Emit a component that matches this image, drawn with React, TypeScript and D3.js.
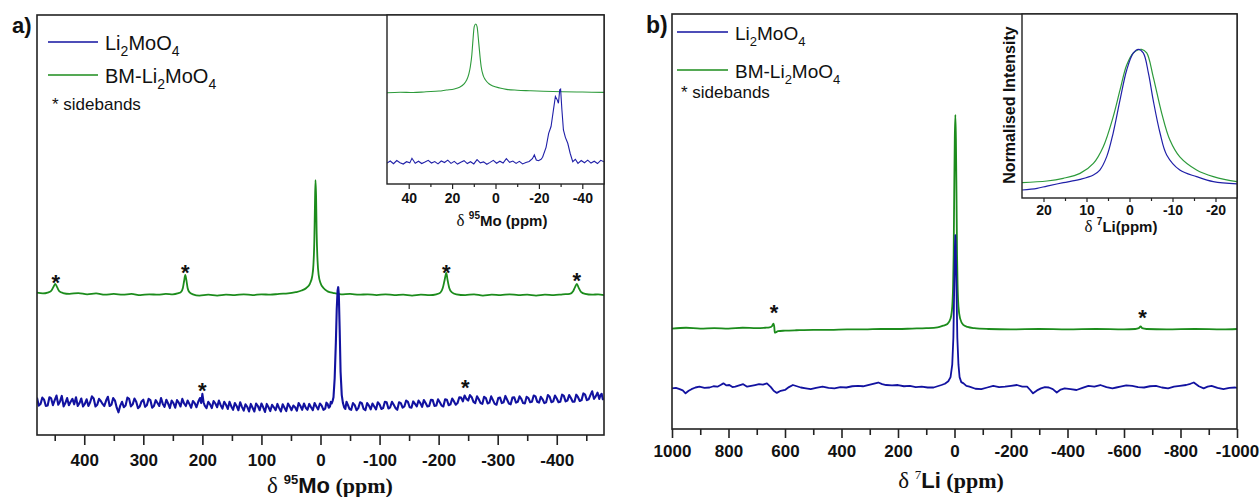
import React, { useEffect, useRef } from 'react';
import * as d3 from 'd3';

type Pt = [number, number];

// ---------- Panel a: 95Mo spectra (ppm, intensity a.u.) ----------
const greenMoMain: Pt[] = [
  [480, 33.9], [470, 33.7], [462, 33.9], [456, 34.3], [452, 35.3], [449, 36.0], [446, 35.2], [442, 34.2], [436, 33.8],
  [425, 33.6], [410, 33.8], [395, 33.5], [380, 33.7], [365, 33.4], [350, 33.6], [335, 33.4], [320, 33.6], [305, 33.3],
  [290, 33.5], [275, 33.4], [262, 33.6], [250, 33.5], [242, 33.7], [236, 34.1], [233, 35.0], [231, 36.6], [229, 38.1],
  [227, 36.8], [225, 35.0], [222, 34.0], [216, 33.5], [205, 33.2], [190, 33.4], [175, 33.2], [160, 33.4], [145, 33.3],
  [130, 33.5], [115, 33.3], [100, 33.5], [85, 33.4], [70, 33.6], [55, 33.7], [42, 34.0], [32, 34.4], [24, 35.0],
  [18, 36.0], [14, 37.8], [12, 40.5], [10.5, 46], [9.5, 54], [8.5, 60.7], [7.5, 57], [6.5, 48], [5, 41.5], [3, 38],
  [0, 36.2], [-5, 35.0], [-12, 34.2], [-22, 33.8], [-35, 33.5], [-50, 33.6], [-65, 33.4], [-80, 33.5], [-95, 33.3],
  [-110, 33.5], [-125, 33.3], [-140, 33.4], [-155, 33.2], [-170, 33.4], [-185, 33.3], [-196, 33.5], [-203, 33.9],
  [-207, 35.0], [-210, 36.8], [-213, 38.6], [-215, 37.0], [-218, 35.0], [-222, 34.0], [-230, 33.5], [-245, 33.3],
  [-260, 33.5], [-275, 33.2], [-290, 33.4], [-305, 33.3], [-320, 33.5], [-335, 33.3], [-350, 33.4], [-365, 33.2],
  [-380, 33.4], [-395, 33.3], [-410, 33.5], [-422, 33.6], [-428, 34.3], [-431, 35.2], [-434, 36.0], [-437, 35.1],
  [-441, 34.1], [-448, 33.6], [-460, 33.4], [-470, 33.5], [-480, 33.3],
];

const blueMoMain: Pt[] = [
  [480, 8.9], [477, 7.0], [474, 7.4], [471, 8.9], [468, 8.4], [465, 6.9], [462, 7.0], [459, 9.0], [456, 8.7], [453, 7.1],
  [450, 8.3], [447, 9.4], [444, 7.2], [441, 8.0], [438, 9.3], [435, 6.8], [432, 7.6], [429, 8.8], [426, 7.1], [423, 7.9],
  [420, 8.6], [417, 7.3], [414, 9.0], [411, 6.9], [408, 7.6], [405, 8.7], [402, 6.8], [399, 7.4], [396, 8.5], [393, 6.9],
  [390, 7.8], [387, 9.2], [384, 8.7], [381, 6.8], [378, 7.2], [375, 8.6], [372, 8.1], [369, 7.4], [366, 6.9], [363, 8.2],
  [360, 9.1], [357, 6.9], [354, 7.2], [351, 8.8], [348, 8.2], [345, 6.5], [342, 5.4], [339, 7.0], [336, 7.9], [333, 6.6],
  [330, 7.0], [327, 8.9], [324, 8.6], [321, 6.8], [318, 7.3], [315, 8.7], [312, 7.9], [309, 6.4], [306, 6.8], [303, 8.0],
  [300, 8.4], [297, 6.7], [294, 7.1], [291, 8.6], [288, 8.3], [285, 6.5], [282, 6.9], [279, 8.3], [276, 7.6], [273, 6.9],
  [270, 8.8], [267, 7.4], [264, 6.7], [261, 8.4], [258, 7.5], [255, 6.4], [252, 8.2], [249, 7.6], [246, 6.5], [243, 8.3],
  [240, 7.7], [237, 6.8], [234, 8.6], [231, 7.5], [228, 6.9], [225, 8.2], [222, 7.4], [219, 6.5], [216, 8.1], [213, 7.6],
  [210, 6.6], [207, 7.9], [204, 8.8], [202, 7.6], [200, 9.8], [198, 7.8], [196, 7.0], [193, 6.4], [190, 7.9], [187, 7.3],
  [184, 6.4], [181, 8.1], [178, 7.5], [175, 6.6], [172, 8.2], [169, 7.1], [166, 6.3], [163, 7.9], [160, 7.2], [157, 6.2],
  [154, 7.9], [151, 6.8], [148, 6.0], [145, 7.6], [142, 6.9], [139, 5.9], [136, 7.8], [133, 6.7], [130, 5.8], [127, 7.3],
  [124, 6.7], [121, 5.6], [118, 7.4], [115, 6.5], [112, 5.6], [109, 7.5], [106, 6.9], [103, 5.9], [100, 7.5], [97, 6.6],
  [94, 5.5], [91, 7.4], [88, 6.6], [85, 5.7], [82, 7.2], [79, 6.6], [76, 5.9], [73, 7.4], [70, 6.4], [67, 5.6],
  [64, 7.3], [61, 6.5], [58, 5.7], [55, 7.5], [52, 6.8], [49, 5.9], [46, 7.0], [43, 6.6], [40, 5.8], [37, 7.6],
  [34, 6.9], [31, 6.0], [28, 7.5], [25, 6.5], [22, 6.0], [19, 7.4], [16, 6.6], [13, 5.9], [10, 7.6], [7, 6.8],
  [4, 6.1], [1, 7.5], [-2, 7.0], [-5, 6.0], [-8, 6.3], [-10, 7.7], [-12, 7.4], [-14, 6.5], [-16, 6.8], [-17.5, 7.9],
  [-19, 7.5], [-20.5, 8.1], [-22, 9.0], [-24, 13.5], [-26, 22], [-27.5, 30], [-29, 34.5], [-30, 35.2], [-31, 33.5],
  [-32.5, 25], [-34, 15], [-36, 9.5], [-38, 7.6], [-40, 6.6], [-42, 6.2], [-44, 7.9], [-46, 7.3], [-49, 6.2], [-52, 6.0],
  [-55, 7.6], [-58, 7.1], [-61, 5.9], [-64, 6.4], [-67, 7.8], [-70, 7.6], [-73, 6.2], [-76, 5.9], [-79, 7.6], [-82, 7.0],
  [-85, 6.1], [-88, 7.5], [-91, 6.8], [-94, 6.1], [-97, 7.8], [-100, 7.3], [-103, 6.2], [-106, 6.4], [-109, 7.9],
  [-112, 7.8], [-115, 6.3], [-118, 6.6], [-121, 7.9], [-124, 7.2], [-127, 6.4], [-130, 6.0], [-133, 7.8], [-136, 7.6],
  [-139, 6.5], [-142, 6.8], [-145, 8.2], [-148, 7.9], [-151, 6.6], [-154, 6.5], [-157, 8.0], [-160, 7.4], [-163, 6.8],
  [-166, 8.2], [-169, 7.6], [-172, 6.7], [-175, 8.3], [-178, 7.6], [-181, 6.8], [-184, 6.9], [-187, 8.4], [-190, 8.3],
  [-193, 6.9], [-196, 7.0], [-199, 8.5], [-202, 7.8], [-205, 7.0], [-208, 6.8], [-211, 8.5], [-214, 8.4], [-217, 7.1],
  [-220, 7.3], [-223, 8.7], [-226, 8.0], [-229, 7.2], [-232, 7.6], [-235, 9.0], [-238, 8.9], [-241, 8.0], [-244, 9.4],
  [-247, 8.6], [-250, 8.2], [-253, 9.5], [-256, 9.0], [-259, 7.9], [-262, 7.6], [-265, 9.2], [-268, 8.5], [-271, 7.6],
  [-274, 7.4], [-277, 9.1], [-280, 8.8], [-283, 7.5], [-286, 7.7], [-289, 9.2], [-292, 8.3], [-295, 7.4], [-298, 7.2],
  [-301, 8.8], [-304, 8.9], [-307, 7.6], [-310, 7.8], [-313, 9.3], [-316, 8.4], [-319, 7.5], [-322, 7.3], [-325, 8.9],
  [-328, 9.0], [-331, 7.7], [-334, 7.9], [-337, 9.2], [-340, 8.6], [-343, 7.6], [-346, 7.5], [-349, 9.1], [-352, 8.8],
  [-355, 7.8], [-358, 7.9], [-361, 9.4], [-364, 9.2], [-367, 7.9], [-370, 7.7], [-373, 9.1], [-376, 8.5], [-379, 7.6],
  [-382, 7.8], [-385, 9.5], [-388, 9.1], [-391, 7.8], [-394, 8.0], [-397, 9.4], [-400, 8.7], [-403, 7.8], [-406, 7.9],
  [-409, 9.6], [-412, 9.3], [-415, 8.0], [-418, 8.2], [-421, 9.5], [-424, 8.8], [-427, 7.9], [-430, 7.9], [-433, 9.6],
  [-436, 9.0], [-439, 8.1], [-442, 8.3], [-445, 9.9], [-448, 9.6], [-451, 8.3], [-454, 8.5], [-457, 9.5], [-460, 10.4],
  [-463, 8.6], [-466, 9.2], [-469, 10.1], [-472, 8.6], [-474, 9.5], [-476, 9.8], [-478, 8.5], [-480, 8.7],
];

const greenMoInset: Pt[] = [
  [50, 54.0], [44, 54.3], [38, 54.1], [32, 54.6], [26, 55.0], [22.7, 55.6], [19, 56.2], [16.6, 57.2], [14.5, 59.2],
  [13.3, 61.5], [12.3, 65.0], [11.6, 69.4], [10.9, 76.5], [10.5, 83.2], [9.8, 93.1], [9.1, 94.7], [8.5, 93.1],
  [7.7, 83.2], [7.1, 75], [6.6, 69.4], [5.6, 64], [4.6, 61.5], [3, 59.3], [1.2, 58.0], [-2, 56.8], [-5, 56.0],
  [-10, 55.5], [-15.7, 55.2], [-22, 54.9], [-31, 54.6], [-40, 54.4], [-50, 54.2],
];

const blueMoInset: Pt[] = [
  [50, 12.4], [48.5, 13.6], [47, 12.0], [45.5, 13.9], [44, 12.6], [42.5, 11.8], [41, 13.2], [39.5, 12.5], [38.5, 15.2],
  [37, 12.3], [35.5, 13.5], [34, 12.1], [32.5, 13.0], [31, 14.0], [29.5, 12.4], [28, 13.3], [26.5, 11.9], [25, 13.6],
  [23.5, 12.7], [22, 14.1], [20.5, 12.2], [19, 13.4], [17.5, 11.8], [16, 12.9], [14.5, 13.8], [13, 12.1], [11.5, 13.2],
  [10, 11.9], [8.5, 14.4], [7, 12.5], [5.5, 13.1], [4, 11.7], [2.5, 12.8], [1, 14.0], [-0.5, 12.3], [-2, 13.5],
  [-3.5, 12.4], [-5, 15.0], [-6.5, 12.8], [-8, 13.6], [-9.5, 12.2], [-11, 13.4], [-12.5, 11.9], [-14, 12.7],
  [-15.5, 13.3], [-17, 15.0], [-17.9, 17.2], [-18.8, 14.2], [-19.8, 13.8], [-21, 14.6], [-21.7, 15.8], [-23.3, 21.7],
  [-24.5, 30], [-25.6, 34], [-26.7, 43.9], [-27.6, 51.8], [-28.4, 49.9], [-29.0, 47.8], [-29.6, 55.7], [-30.0, 56.1],
  [-30.6, 43.9], [-31.3, 32], [-32.2, 27.6], [-33.3, 24.1], [-34.4, 18.2], [-35.6, 13.2], [-36.8, 14.6], [-38, 12.2],
  [-39.5, 13.9], [-41, 12.6], [-42.5, 14.1], [-44, 12.4], [-45.5, 13.5], [-47, 12.1], [-48.5, 14.0], [-50, 13.1],
];

// ---------- Panel b: 7Li spectra ----------
const greenLiMain: Pt[] = [
  [1000, 24.2], [950, 24.4], [900, 24.2], [850, 24.3], [800, 24.2], [750, 24.4], [700, 24.3], [670, 24.4], [655, 24.5],
  [646, 24.8], [641, 25.4], [638, 24.6], [636, 23.2], [632, 23.3], [625, 23.6], [600, 23.7], [560, 23.8], [500, 23.9],
  [440, 23.9], [380, 24.0], [320, 24.0], [260, 24.1], [200, 24.1], [150, 24.2], [100, 24.3], [60, 24.5], [40, 24.9],
  [25, 25.3], [14, 26.6], [8, 29.5], [5, 34.5], [3, 42], [1, 57], [-1, 70], [-3, 75.7], [-5, 70], [-7, 57], [-9, 42],
  [-11, 34.5], [-14, 29.5], [-20, 26.6], [-31, 25.1], [-46, 24.6], [-70, 24.3], [-120, 24.1], [-200, 24.0],
  [-300, 24.1], [-400, 24.0], [-500, 24.1], [-600, 24.0], [-640, 24.1], [-652, 24.3], [-659, 24.7], [-664, 24.3],
  [-680, 24.1], [-750, 24.0], [-850, 24.1], [-950, 24.0], [-1000, 24.1],
];

const blueLiMain: Pt[] = [
  [1000, 9.8], [986, 9.9], [973, 9.6], [962, 9.3], [952, 8.6], [941, 9.2], [931, 9.6], [917, 10.0], [903, 10.2],
  [885, 9.9], [867, 10.0], [853, 10.3], [839, 10.2], [828, 10.6], [818, 11.0], [807, 10.5], [797, 10.6], [786, 10.1],
  [776, 10.2], [762, 10.5], [748, 10.8], [734, 10.2], [720, 10.4], [706, 10.6], [692, 10.8], [678, 10.7], [664, 11.0],
  [650, 10.1], [640, 9.2], [629, 8.7], [615, 9.2], [600, 9.4], [586, 10.1], [572, 10.6], [558, 10.3], [544, 10.0],
  [526, 9.8], [509, 9.6], [490, 9.9], [467, 10.2], [446, 9.9], [425, 9.8], [404, 10.1], [383, 10.0], [362, 10.3],
  [341, 10.4], [324, 10.3], [306, 10.6], [288, 10.9], [270, 11.2], [256, 10.8], [242, 10.6], [221, 10.5], [200, 10.6],
  [179, 10.3], [158, 10.4], [137, 10.1], [116, 10.2], [95, 10.0], [74, 10.0], [60, 10.3], [46, 10.6], [34, 10.9],
  [22, 11.5], [14, 12.5], [8, 15.5], [4, 22], [2, 30], [0, 38], [-1.5, 44], [-3, 46.7], [-4.5, 44], [-6, 38], [-8, 30],
  [-10, 22], [-14, 15.5], [-18, 12.5], [-24, 11.3], [-32, 11.0], [-42, 10.4], [-53, 10.2], [-74, 9.7], [-95, 9.6],
  [-116, 10.0], [-137, 10.4], [-158, 10.1], [-179, 10.2], [-200, 10.4], [-221, 10.6], [-240, 10.2], [-257, 10.2],
  [-268, 9.4], [-278, 8.6], [-292, 9.3], [-306, 9.8], [-320, 10.1], [-334, 10.0], [-348, 9.6], [-362, 8.8], [-376, 9.5],
  [-390, 9.8], [-411, 9.6], [-432, 9.4], [-453, 9.9], [-474, 10.4], [-495, 10.2], [-516, 10.6], [-538, 10.1],
  [-559, 9.8], [-573, 10.0], [-587, 10.2], [-608, 10.5], [-629, 10.4], [-650, 10.1], [-671, 10.0], [-692, 10.3],
  [-713, 10.4], [-734, 10.0], [-756, 9.8], [-777, 10.2], [-798, 10.4], [-820, 10.6], [-835, 10.9], [-847, 11.2],
  [-865, 10.3], [-882, 9.8], [-896, 10.2], [-910, 10.4], [-931, 9.9], [-952, 9.6], [-973, 9.9], [-994, 10.0], [-1000, 9.9],
];

const greenLiInset: Pt[] = [
  [25, 0.052], [19.2, 0.064], [15.4, 0.083], [11.5, 0.118], [8.4, 0.189], [6.1, 0.308], [3.8, 0.52], [2.2, 0.711],
  [0.65, 0.888], [-0.9, 0.974], [-2.8, 1.0], [-4.0, 0.974], [-5.5, 0.806], [-7.5, 0.545], [-9.4, 0.355], [-11.7, 0.235],
  [-15.6, 0.142], [-19.5, 0.095], [-25, 0.059],
];

const blueLiInset: Pt[] = [
  [25, 0.0], [21.5, 0.012], [19.2, 0.028], [15.4, 0.052], [11.5, 0.076], [8.4, 0.107], [6.9, 0.142], [5.3, 0.237],
  [3.8, 0.405], [2.2, 0.64], [0.65, 0.853], [-0.9, 0.974], [-2.05, 1.0], [-3.2, 0.974], [-4.4, 0.831], [-5.5, 0.64],
  [-7.1, 0.405], [-8.65, 0.249], [-11.7, 0.142], [-15.6, 0.095], [-19.5, 0.059], [-25, 0.043],
];

// sideband markers (ppm, intensity of marker centre)
const starsMo: Pt[] = [[448, 37.6], [229, 40.0], [-213, 40.0], [-434, 37.9], [200, 11.9], [-245, 12.4]];
const starsLi: Pt[] = [[639, 29.2], [-666, 28.2]];

// tick values
const moMajor = [400, 300, 200, 100, 0, -100, -200, -300, -400];
const moMinor = [450, 350, 250, 150, 50, -50, -150, -250, -350, -450];
const moInsetMajor = [40, 20, 0, -20, -40];
const moInsetMinor = [30, 10, -10, -30];
const liMajor = [1000, 800, 600, 400, 200, 0, -200, -400, -600, -800, -1000];
const liMinor = [900, 700, 500, 300, 100, -100, -300, -500, -700, -900];
const liInsetMajor = [20, 10, 0, -10, -20];
const liInsetMinor = [15, 5, -5, -15];

const SANS = 'Arial, "Liberation Sans", Helvetica, sans-serif';
const SERIF = '"Times New Roman", "Liberation Serif", serif';
const BLUE = '#1212a0';
const GREEN = '#1c8c1c';
const GREEN_L = '#2c9a3a';
const BLUE_L = '#2020a8';
const FRAME = '#222';

type Lin = d3.ScaleLinear<number, number>;

function XAxis(props: {
  scale: Lin; y: number; major: number[]; minor: number[];
  majorSize: number; minorSize: number; pad: number; fontSize: number; width: number;
}) {
  const ref = useRef<SVGGElement>(null);
  const { scale, y, major, minor, majorSize, minorSize, pad, fontSize, width } = props;
  useEffect(() => {
    const g = d3.select(ref.current);
    g.selectAll('*').remove();
    g.append('g').call(
      d3.axisBottom(scale).tickValues(minor).tickSize(minorSize).tickSizeOuter(0).tickFormat(() => '')
    );
    g.append('g').call(
      d3.axisBottom(scale).tickValues(major).tickSize(majorSize).tickPadding(pad).tickSizeOuter(0)
        .tickFormat((d) => String(d))
    );
    g.selectAll('.domain').remove();
    g.selectAll('line').attr('stroke', FRAME).attr('stroke-width', width);
    g.selectAll('text')
      .attr('font-family', SANS).attr('font-weight', 'bold').attr('font-size', fontSize).attr('fill', '#111');
  }, [scale, y, major, minor, majorSize, minorSize, pad, fontSize, width]);
  return <g ref={ref} transform={`translate(0,${y})`} />;
}

function Legend({ x, y1, y2, ys, lineLen, fs, fsSub, fsStar }: {
  x: number; y1: number; y2: number; ys: number; lineLen: number; fs: number; fsSub: number; fsStar: number;
}) {
  const tx = x + lineLen + 7;
  const sub = (t: string) => <tspan fontSize={fsSub} dy={6}>{t}</tspan>;
  return (
    <g fontFamily={SANS} fill="#111">
      <line x1={x} x2={x + lineLen} y1={y1} y2={y1} stroke={BLUE} strokeWidth={1.6} />
      <text x={tx} y={y1 + 8} fontSize={fs}>
        Li{sub('2')}<tspan dy={-6}>MoO</tspan>{sub('4')}
      </text>
      <line x1={x} x2={x + lineLen} y1={y2} y2={y2} stroke={GREEN} strokeWidth={1.6} />
      <text x={tx} y={y2 + 8} fontSize={fs}>
        BM-Li{sub('2')}<tspan dy={-6}>MoO</tspan>{sub('4')}
      </text>
      <text x={x + 4} y={ys} fontSize={fsStar}>* sidebands</text>
    </g>
  );
}

export default function App() {
  // ----- panel a geometry -----
  const aL = 37, aR = 604, aT = 15, aB = 435;
  const xA = d3.scaleLinear().domain([480, -480]).range([aL, aR]);
  const yA = d3.scaleLinear().domain([0, 100]).range([aB, aB - 420]);
  const iaL = 387, iaR = 604, iaT = 15, iaB = 184;
  const xIA = d3.scaleLinear().domain([50, -50]).range([iaL, iaR]);
  const yIA = d3.scaleLinear().domain([0, 100]).range([iaB, iaB - 169]);

  // ----- panel b geometry -----
  const bL = 672, bR = 1237, bT = 14, bB = 429;
  const xB = d3.scaleLinear().domain([1000, -1000]).range([bL, bR]);
  const yB = d3.scaleLinear().domain([0, 100]).range([bB, bB - 415]);
  const ibL = 1022, ibR = 1237, ibT = 14, ibB = 198;
  const xIB = d3.scaleLinear().domain([25, -25]).range([ibL, ibR]);
  const yIB = d3.scaleLinear().domain([0, 1]).range([190, 49.3]);

  const mk = (xs: Lin, ys: Lin, curve: d3.CurveFactory = d3.curveMonotoneX) =>
    d3.line<Pt>().x((d) => xs(d[0])).y((d) => ys(d[1])).curve(curve);

  const lineA = mk(xA, yA);
  const lineANoisy = mk(xA, yA, d3.curveLinear);
  const lineIA = mk(xIA, yIA);
  const lineIANoisy = mk(xIA, yIA, d3.curveLinear);
  const lineB = mk(xB, yB);
  const lineBNoisy = mk(xB, yB, d3.curveLinear);
  const lineIB = mk(xIB, yIB, d3.curveCatmullRom);

  const starFs = 22;

  return (
    <svg width={1260} height={497} style={{ position: 'absolute', left: 0, top: 0, background: '#fff' }}
      fontFamily={SANS}>
      <rect x={0} y={0} width={1260} height={497} fill="#fff" />
      <defs>
        <clipPath id="clipA"><rect x={aL} y={aT} width={aR - aL} height={aB - aT} /></clipPath>
        <clipPath id="clipB"><rect x={bL} y={bT} width={bR - bL} height={bB - bT} /></clipPath>
        <clipPath id="clipIA"><rect x={iaL} y={iaT} width={iaR - iaL} height={iaB - iaT} /></clipPath>
        <clipPath id="clipIB"><rect x={ibL} y={ibT} width={ibR - ibL} height={ibB - ibT} /></clipPath>
      </defs>

      {/* ================= Panel a ================= */}
      <g clipPath="url(#clipA)">
        <path d={lineA(greenMoMain) || ''} fill="none" stroke={GREEN} strokeWidth={1.8} />
        <path d={lineANoisy(blueMoMain) || ''} fill="none" stroke={BLUE} strokeWidth={2.1} strokeLinejoin="round" />
      </g>
      {starsMo.map((s, i) => (
        <text key={i} x={xA(s[0])} y={yA(s[1]) + starFs * 0.57} textAnchor="middle" fontSize={starFs}
          fontWeight="bold" fill="#111">*</text>
      ))}
      <rect x={aL} y={aT} width={aR - aL} height={aB - aT} fill="none" stroke={FRAME} strokeWidth={1.6} />
      <XAxis scale={xA} y={aB} major={moMajor} minor={moMinor} majorSize={10} minorSize={6} pad={9} fontSize={17} width={1.6} />
      <text x={330} y={493} textAnchor="middle" fill="#111">
        <tspan fontFamily={SERIF} fontSize={23}>δ </tspan>
        <tspan fontSize={13} fontWeight="bold" dy={-9}>95</tspan>
        <tspan fontSize={22} fontWeight="bold" dy={9}>Mo</tspan>
        <tspan fontFamily={SERIF} fontSize={22} fontWeight="bold"> (ppm)</tspan>
      </text>
      <text x={12} y={33} fontSize={22} fontWeight="bold" fill="#111">a)</text>
      <Legend x={48} y1={42} y2={75} ys={110} lineLen={50} fs={20} fsSub={14} fsStar={17} />

      {/* inset a */}
      <rect x={iaL} y={iaT} width={iaR - iaL} height={iaB - iaT} fill="#fff" />
      <g clipPath="url(#clipIA)">
        <path d={lineIA(greenMoInset) || ''} fill="none" stroke={GREEN_L} strokeWidth={1.1} />
        <path d={lineIANoisy(blueMoInset) || ''} fill="none" stroke={BLUE_L} strokeWidth={1.1} />
      </g>
      <rect x={iaL} y={iaT} width={iaR - iaL} height={iaB - iaT} fill="none" stroke={FRAME} strokeWidth={1.4} />
      <XAxis scale={xIA} y={iaB} major={moInsetMajor} minor={moInsetMinor} majorSize={5} minorSize={3} pad={4} fontSize={14} width={1.2} />
      <text x={502} y={226} textAnchor="middle" fill="#111">
        <tspan fontFamily={SERIF} fontSize={17}>δ </tspan>
        <tspan fontSize={10} fontWeight="bold" dy={-7}>95</tspan>
        <tspan fontSize={15} fontWeight="bold" dy={7}>Mo (ppm)</tspan>
      </text>

      {/* ================= Panel b ================= */}
      <g clipPath="url(#clipB)">
        <path d={lineB(greenLiMain) || ''} fill="none" stroke={GREEN} strokeWidth={1.8} />
        <path d={lineBNoisy(blueLiMain) || ''} fill="none" stroke={BLUE} strokeWidth={1.8} strokeLinejoin="round" />
      </g>
      {starsLi.map((s, i) => (
        <text key={i} x={xB(s[0])} y={yB(s[1]) + starFs * 0.57} textAnchor="middle" fontSize={starFs}
          fontWeight="bold" fill="#111">*</text>
      ))}
      <rect x={bL} y={bT} width={bR - bL} height={bB - bT} fill="none" stroke={FRAME} strokeWidth={1.6} />
      <XAxis scale={xB} y={bB} major={liMajor} minor={liMinor} majorSize={9} minorSize={6} pad={7} fontSize={17} width={1.6} />
      <text x={951} y={488} textAnchor="middle" fill="#111">
        <tspan fontFamily={SERIF} fontSize={23}>δ </tspan>
        <tspan fontFamily={SERIF} fontSize={13} dy={-9}>7</tspan>
        <tspan fontSize={22} fontWeight="bold" dy={9}>Li</tspan>
        <tspan fontFamily={SERIF} fontSize={22} fontWeight="bold"> (ppm)</tspan>
      </text>
      <text x={646} y={33} fontSize={23} fontWeight="bold" fill="#111">b)</text>
      <Legend x={677} y1={32} y2={70} ys={98} lineLen={51} fs={19} fsSub={13} fsStar={17} />

      {/* inset b */}
      <rect x={ibL} y={ibT} width={ibR - ibL} height={ibB - ibT} fill="#fff" />
      <g clipPath="url(#clipIB)">
        <path d={lineIB(greenLiInset) || ''} fill="none" stroke={GREEN_L} strokeWidth={1.2} />
        <path d={lineIB(blueLiInset) || ''} fill="none" stroke={BLUE_L} strokeWidth={1.2} />
      </g>
      <rect x={ibL} y={ibT} width={ibR - ibL} height={ibB - ibT} fill="none" stroke={FRAME} strokeWidth={1.4} />
      <XAxis scale={xIB} y={ibB} major={liInsetMajor} minor={liInsetMinor} majorSize={4} minorSize={3} pad={3} fontSize={14} width={1.2} />
      <text transform="translate(1015,105) rotate(-90)" textAnchor="middle" fontSize={16} fontWeight="bold" fill="#111">
        Normalised Intensity
      </text>
      <text x={1121} y={232} textAnchor="middle" fill="#111">
        <tspan fontFamily={SERIF} fontSize={17}>δ  </tspan>
        <tspan fontSize={10} fontWeight="bold" dy={-7}>7</tspan>
        <tspan fontSize={15} fontWeight="bold" dy={7}>Li(ppm)</tspan>
      </text>
    </svg>
  );
}
